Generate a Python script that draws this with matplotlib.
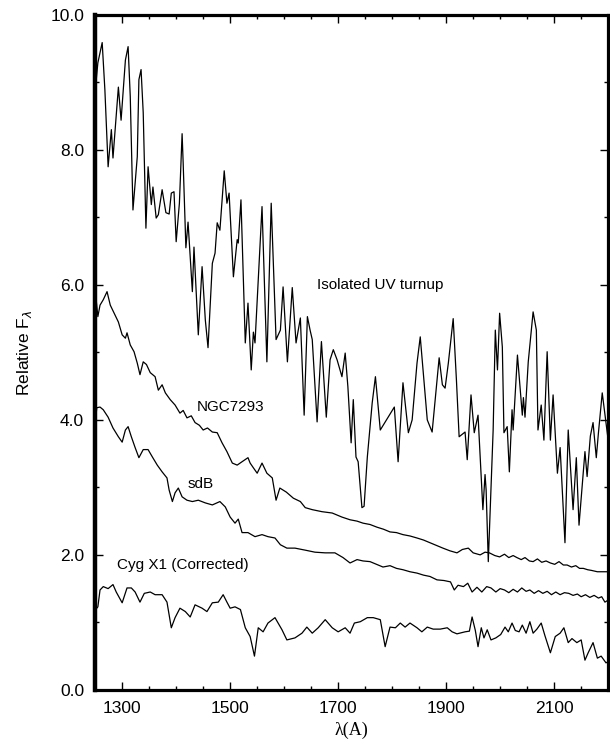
import numpy as np
import matplotlib
matplotlib.use("Agg")
import matplotlib.pyplot as plt
from matplotlib.ticker import MultipleLocator, FormatStrFormatter

# spectra (wavelength in A, relative flux)
uv_wave = [1250, 1252, 1255, 1263, 1268, 1274, 1280, 1283, 1293, 1298, 1306, 1311, 1315, 1320,
           1328, 1331, 1335, 1339, 1344, 1348, 1354, 1357, 1363, 1367, 1374, 1381, 1387, 1391,
           1396, 1400, 1406, 1411, 1413, 1418, 1422, 1430, 1433, 1441, 1448, 1454, 1459, 1467,
           1472, 1476, 1481, 1489, 1494, 1498, 1506, 1513, 1515, 1520, 1528, 1533, 1539, 1543,
           1546, 1559, 1568, 1576, 1585, 1593, 1598, 1606, 1615, 1622, 1630, 1637, 1643, 1648,
           1652, 1661, 1669, 1678, 1685, 1691, 1698, 1707, 1713, 1718, 1724, 1728, 1733, 1737,
           1744, 1748, 1754, 1763, 1769, 1778, 1804, 1811, 1820, 1830, 1837, 1846, 1852, 1865,
           1874, 1887, 1893, 1898, 1904, 1913, 1919, 1924, 1935, 1939, 1946, 1952, 1959, 1968,
           1972, 1974, 1978, 1987, 1991, 1995, 1999, 2004, 2007, 2013, 2017, 2022, 2024, 2032,
           2041, 2043, 2046, 2052, 2061, 2067, 2070, 2076, 2081, 2087, 2093, 2098, 2106, 2111,
           2120, 2126, 2135, 2141, 2146, 2157, 2161, 2167, 2172, 2178, 2182, 2189, 2196, 2200]
uv_flux = [8.55, 9.04, 9.29, 9.59, 8.89, 7.75, 8.30, 7.88, 8.93, 8.44, 9.33, 9.53, 8.79, 7.11,
           7.90, 9.04, 9.19, 8.55, 6.84, 7.75, 7.19, 7.45, 6.99, 7.04, 7.41, 7.07, 7.05, 7.36,
           7.38, 6.64, 7.21, 8.24, 7.80, 6.55, 6.93, 5.90, 6.56, 5.26, 6.27, 5.48, 5.07, 6.32,
           6.47, 6.92, 6.81, 7.69, 7.21, 7.36, 6.12, 6.67, 6.62, 7.26, 5.14, 5.73, 4.74, 5.30,
           5.14, 7.16, 4.86, 7.21, 5.19, 5.33, 5.97, 4.86, 5.96, 5.14, 5.51, 4.07, 5.53, 5.33,
           5.19, 3.97, 5.16, 4.04, 4.89, 5.04, 4.89, 4.64, 4.99, 4.49, 3.66, 4.30, 3.45, 3.38,
           2.70, 2.72, 3.45, 4.25, 4.64, 3.85, 4.19, 3.38, 4.55, 3.81, 4.00, 4.84, 5.23, 4.00,
           3.82, 4.92, 4.52, 4.47, 4.84, 5.50, 4.59, 3.75, 3.82, 3.41, 4.37, 3.81, 4.07, 2.67,
           3.19, 2.96, 1.90, 3.85, 5.33, 4.74, 5.58, 5.08, 3.81, 3.90, 3.23, 4.15, 3.85, 4.96,
           4.07, 4.33, 4.04, 4.86, 5.60, 5.33, 3.85, 4.22, 3.70, 5.01, 3.70, 4.37, 3.21, 3.59,
           2.18, 3.85, 2.67, 3.44, 2.44, 3.53, 3.16, 3.76, 3.96, 3.44, 3.81, 4.40, 3.96, 3.70]

ngc_wave = [1250, 1255, 1259, 1265, 1272, 1278, 1287, 1293, 1300, 1306, 1309, 1315, 1322, 1328,
            1333, 1339, 1345, 1352, 1361, 1367, 1374, 1380, 1389, 1398, 1407, 1413, 1420, 1428,
            1435, 1443, 1450, 1458, 1467, 1476, 1485, 1494, 1504, 1513, 1522, 1533, 1537, 1543,
            1550, 1559, 1568, 1578, 1585, 1592, 1604, 1617, 1630, 1639, 1652, 1670, 1689, 1707,
            1722, 1735, 1746, 1759, 1772, 1784, 1796, 1808, 1820, 1833, 1846, 1858, 1870, 1882,
            1894, 1907, 1920, 1930, 1941, 1950, 1963, 1972, 1980, 1990, 1999, 2008, 2016, 2024,
            2031, 2039, 2046, 2054, 2061, 2069, 2077, 2085, 2093, 2101, 2109, 2117, 2124, 2132,
            2140, 2147, 2154, 2162, 2169, 2180, 2190, 2200]
ngc_flux = [5.93, 5.53, 5.70, 5.78, 5.90, 5.70, 5.55, 5.45, 5.26, 5.21, 5.29, 5.11, 5.01, 4.84,
            4.67, 4.86, 4.82, 4.70, 4.64, 4.44, 4.52, 4.40, 4.30, 4.22, 4.10, 4.14, 4.03, 4.06,
            3.96, 3.92, 3.85, 3.88, 3.82, 3.81, 3.66, 3.53, 3.36, 3.33, 3.38, 3.44, 3.36, 3.29,
            3.21, 3.36, 3.21, 3.14, 2.81, 2.99, 2.93, 2.84, 2.79, 2.70, 2.67, 2.64, 2.62, 2.56,
            2.52, 2.50, 2.47, 2.45, 2.41, 2.38, 2.34, 2.33, 2.30, 2.28, 2.25, 2.22, 2.18, 2.14,
            2.10, 2.06, 2.03, 2.08, 2.10, 2.03, 2.00, 2.04, 2.03, 1.99, 1.97, 2.01, 1.96, 1.99,
            1.96, 1.93, 1.96, 1.91, 1.90, 1.94, 1.89, 1.91, 1.88, 1.86, 1.90, 1.85, 1.85, 1.82,
            1.84, 1.80, 1.80, 1.78, 1.77, 1.75, 1.75, 1.75]

sdb_wave = [1250, 1253, 1259, 1265, 1274, 1283, 1293, 1300, 1306, 1311, 1317, 1324, 1331, 1339,
            1348, 1356, 1365, 1374, 1383, 1387, 1393, 1398, 1404, 1411, 1420, 1430, 1441, 1454,
            1467, 1481, 1491, 1500, 1509, 1515, 1522, 1533, 1546, 1559, 1570, 1583, 1593, 1605,
            1620, 1639, 1657, 1676, 1694, 1709, 1722, 1735, 1746, 1759, 1771, 1783, 1796, 1808,
            1820, 1833, 1846, 1858, 1870, 1883, 1896, 1908, 1915, 1922, 1932, 1940, 1948, 1957,
            1966, 1975, 1983, 1992, 2000, 2008, 2016, 2024, 2032, 2040, 2048, 2055, 2063, 2071,
            2079, 2087, 2095, 2103, 2111, 2119, 2127, 2135, 2143, 2150, 2158, 2166, 2174, 2182,
            2188, 2194, 2200]
sdb_flux = [3.95, 4.18, 4.19, 4.15, 4.04, 3.88, 3.75, 3.67, 3.85, 3.90, 3.75, 3.59, 3.44, 3.56,
            3.56, 3.45, 3.33, 3.23, 3.14, 2.96, 2.79, 2.92, 2.99, 2.86, 2.81, 2.79, 2.81, 2.77,
            2.74, 2.79, 2.71, 2.56, 2.47, 2.53, 2.33, 2.33, 2.27, 2.30, 2.27, 2.25, 2.15, 2.10,
            2.10, 2.07, 2.04, 2.03, 2.03, 1.96, 1.88, 1.93, 1.91, 1.90, 1.86, 1.82, 1.84, 1.80,
            1.78, 1.75, 1.73, 1.70, 1.68, 1.63, 1.62, 1.60, 1.48, 1.55, 1.53, 1.58, 1.45, 1.52,
            1.45, 1.53, 1.51, 1.45, 1.50, 1.48, 1.44, 1.49, 1.45, 1.51, 1.46, 1.48, 1.43, 1.47,
            1.43, 1.46, 1.41, 1.45, 1.41, 1.44, 1.43, 1.40, 1.42, 1.38, 1.41, 1.37, 1.40, 1.36,
            1.38, 1.30, 1.33]

cyg_wave = [1250, 1253, 1255, 1259, 1265, 1274, 1283, 1289, 1300, 1309, 1317, 1324, 1333, 1341,
            1352, 1361, 1374, 1383, 1391, 1398, 1407, 1417, 1426, 1435, 1448, 1457, 1467, 1478,
            1487, 1494, 1500, 1509, 1519, 1528, 1537, 1545, 1552, 1561, 1570, 1583, 1596, 1605,
            1620, 1633, 1642, 1652, 1663, 1676, 1689, 1700, 1713, 1722, 1730, 1741, 1754, 1765,
            1778, 1787, 1796, 1806, 1815, 1824, 1833, 1846, 1855, 1865, 1876, 1889, 1902, 1911,
            1920, 1935, 1943, 1948, 1954, 1959, 1965, 1970, 1976, 1983, 1992, 2001, 2009, 2015,
            2022, 2028, 2035, 2041, 2048, 2055, 2061, 2068, 2076, 2083, 2093, 2102, 2111, 2118,
            2126, 2133, 2142, 2150, 2157, 2163, 2172, 2180, 2187, 2196, 2200]
cyg_flux = [1.19, 1.21, 1.23, 1.48, 1.53, 1.50, 1.56, 1.45, 1.29, 1.51, 1.51, 1.45, 1.30, 1.43,
            1.45, 1.41, 1.41, 1.30, 0.92, 1.07, 1.21, 1.16, 1.08, 1.26, 1.21, 1.16, 1.29, 1.30,
            1.41, 1.30, 1.21, 1.23, 1.19, 0.92, 0.79, 0.50, 0.92, 0.86, 0.99, 1.07, 0.89, 0.74,
            0.77, 0.84, 0.93, 0.84, 0.92, 1.04, 0.92, 0.86, 0.92, 0.84, 0.99, 1.01, 1.07, 1.07,
            1.04, 0.64, 0.93, 0.92, 0.99, 0.93, 0.99, 0.92, 0.86, 0.93, 0.90, 0.90, 0.92, 0.86,
            0.83, 0.86, 0.87, 1.08, 0.88, 0.64, 0.92, 0.77, 0.89, 0.74, 0.77, 0.82, 0.93, 0.86,
            0.99, 0.88, 0.86, 0.96, 0.84, 1.01, 0.84, 0.90, 0.99, 0.80, 0.55, 0.79, 0.84, 0.92,
            0.70, 0.76, 0.70, 0.74, 0.44, 0.55, 0.70, 0.47, 0.50, 0.40, 0.42]

labels = ["Isolated UV turnup", "NGC7293", "sdB", "Cyg X1 (Corrected)"]
label_pos = [(1661, 6.0), (1439, 4.19), (1422, 3.05), (1291, 1.85)]

plt.rcParams['font.family'] = ['Liberation Sans', 'DejaVu Sans']

fig = plt.figure(figsize=(6.1, 7.45), dpi=100)
ax = fig.add_axes([0.156, 0.074, 0.841, 0.906])

for w, f in [(uv_wave, uv_flux), (ngc_wave, ngc_flux), (sdb_wave, sdb_flux), (cyg_wave, cyg_flux)]:
    ax.plot(w, f, color='black', lw=0.9)

for txt, (x, y) in zip(labels, label_pos):
    ax.text(x, y, txt, fontsize=11, ha='left', va='center')

ax.set_xlim(1250, 2200)
ax.set_ylim(0, 10)
ax.xaxis.set_major_locator(MultipleLocator(200))
ax.xaxis.set_minor_locator(MultipleLocator(50))
ax.set_xticks([1300, 1500, 1700, 1900, 2100])
ax.yaxis.set_major_locator(MultipleLocator(2))
ax.yaxis.set_minor_locator(MultipleLocator(1))
ax.yaxis.set_major_formatter(FormatStrFormatter('%.1f'))
ax.tick_params(which='both', direction='in', top=True, right=True, width=1, labelsize=12.5)
ax.tick_params(which='major', length=6, pad=8)
ax.tick_params(which='minor', length=3)

for side in ['top', 'right', 'bottom']:
    ax.spines[side].set_linewidth(2.3)
ax.spines['left'].set_linewidth(3.2)

ax.set_ylabel('Relative F$_{\\lambda}$', fontsize=12.5, labelpad=12)
ax.set_xlabel('λ(A)', fontsize=13, family=['Liberation Serif', 'DejaVu Serif'], labelpad=4)

fig.savefig('out.png', dpi=100)
